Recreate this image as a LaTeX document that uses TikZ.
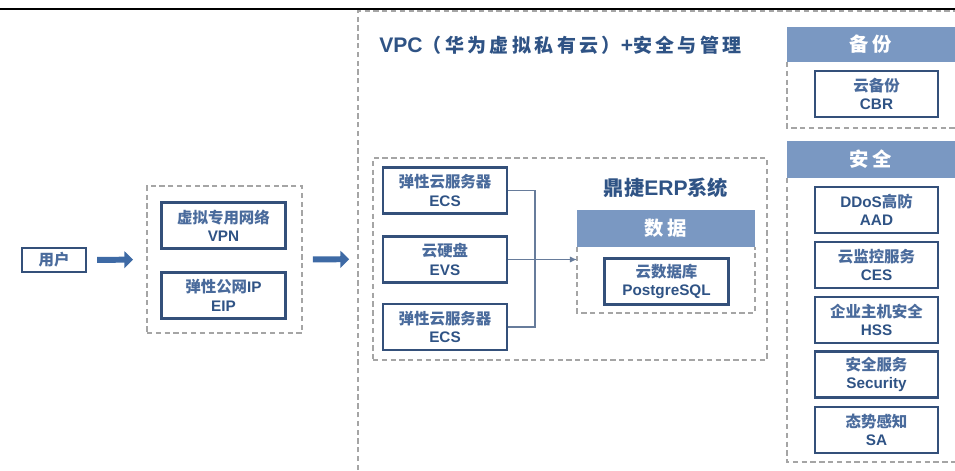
\documentclass[tikz,border=0pt]{standalone}
\usepackage{fontspec}
\setmainfont{Liberation Sans}
\newfontfamily\cjk{Noto Sans CJK SC}
\newfontfamily\cjkwide{Noto Sans CJK SC}[LetterSpace=18]
\usetikzlibrary{arrows.meta}

\definecolor{navy}{HTML}{34507A}
\definecolor{txtblue}{HTML}{2F5385}
\definecolor{cntxt}{HTML}{4A6B9C}
\definecolor{hdrblue}{HTML}{7A98C2}
\definecolor{arrblue}{HTML}{3E6AA5}
\definecolor{dashgray}{HTML}{A5A5A5}

\newcommand{\cn}[1]{{\cjk\bfseries\color{cntxt}\fontsize{8.8}{10}\selectfont #1}}

\tikzset{
  svc/.style={draw=navy, line width=1.2pt, minimum width=2.48cm, minimum height=0.92cm,
    inner sep=0pt, align=center, text=txtblue, font=\bfseries\fontsize{8.7}{10.4}\selectfont},
  hdr/.style={fill=hdrblue, text=white, inner sep=0pt,
    font=\cjkwide\bfseries\fontsize{11}{13}\selectfont},
  zone/.style={draw=dashgray, line width=1pt, dash pattern=on 3pt off 2pt},
  bigarrow/.style={arrblue, line width=3.4pt, -{Triangle[length=5pt,width=9.5pt]}},
  link/.style={navy!75, line width=0.7pt}
}

\begin{document}
\begin{tikzpicture}[x=0.02cm, y=-0.02cm]
\useasboundingbox (0,0) rectangle (955,470);

% rule at the top
\draw[line width=1.5pt] (0,9) -- (955,9);

% VPC area
\draw[zone] (358,470) -- (358,11) -- (955,11);
\node[anchor=west, text=txtblue, inner sep=0pt] (vpctitle) at (379,45)
  {\bfseries\fontsize{12}{14}\selectfont VPC{\cjkwide\bfseries\fontsize{10.8}{13}\selectfont （华为虚拟私有云）}+{\cjkwide\bfseries\fontsize{10.8}{13}\selectfont 安全与管理}};

% user and access
\node[svc, minimum width=1.28cm, minimum height=0.48cm] (user) at (54,260) {\cn{用户}};
\node[zone, minimum width=3.1cm, minimum height=2.94cm] (gate) at (224.5,259.5) {};
\node[svc] (vpn) at (223.5,225.5) {\cn{虚拟专用网络}\\VPN};
\node[svc] (eip) at (223.5,295.5) {\cn{弹性公网}IP\\EIP};

\draw[bigarrow, shorten <=0.2cm, shorten >=0.26cm] (user.east) -- (gate.west);

% ERP area
\node[zone, minimum width=7.88cm, minimum height=4.04cm] (erp) at (570,259) {};
\draw[bigarrow, shorten <=0.2cm, shorten >=0.46cm] (gate.east) -- (erp.west);

\node[svc] (ecs1) at (445,190.5) {\cn{弹性云服务器}\\ECS};
\node[svc] (evs) at (445,259.5) {\cn{云硬盘}\\EVS};
\node[svc] (ecs2) at (445,327) {\cn{弹性云服务器}\\ECS};

\node[text=txtblue, inner sep=0pt] (erptitle) at (666,188)
  {{\cjk\bfseries\fontsize{11.5}{13}\selectfont 鼎捷}{\bfseries\fontsize{12}{14}\selectfont ERP}{\cjk\bfseries\fontsize{11.5}{13}\selectfont 系统}};

\draw[zone] (577,247) -- (577,313) -- (755,313) -- (755,247);
\node[hdr, minimum width=3.56cm, minimum height=0.74cm] (data) at (666,228.5) {数据};
\node[svc] (db) at (666.5,281.5) {\cn{云数据库}\\PostgreSQL};

% links to the database
\coordinate (bus) at (535,259.5);
\coordinate (dbin) at (577,259.5);
\draw[link] (ecs1.east) -| (bus) |- (ecs2.east);
\draw[link, -{Latex[length=4pt,width=3.5pt]}] (evs.east) -- (dbin);

% backup
\draw[zone] (787,62) -- (787,128) -- (955,128);
\node[hdr, minimum width=3.36cm, minimum height=0.7cm] (bak) at (871,44.5) {备份};
\node[svc, minimum width=2.46cm] (cbr) at (876.5,94) {\cn{云备份}\\CBR};

% security
\draw[zone] (787,178) -- (787,462) -- (955,462);
\node[hdr, minimum width=3.36cm, minimum height=0.74cm] (sec) at (871,159.5) {安全};
\node[svc, minimum width=2.46cm] (aad) at (876.5,210) {DDoS\cn{高防}\\AAD};
\node[svc, minimum width=2.46cm] (ces) at (876.5,265) {\cn{云监控服务}\\CES};
\node[svc, minimum width=2.46cm] (hss) at (876.5,320) {\cn{企业主机安全}\\HSS};
\node[svc, minimum width=2.46cm] (secsvc) at (876.5,374.5) {\cn{安全服务}\\Security};
\node[svc, minimum width=2.46cm] (sa) at (876.5,430) {\cn{态势感知}\\SA};

\end{tikzpicture}
\end{document}
